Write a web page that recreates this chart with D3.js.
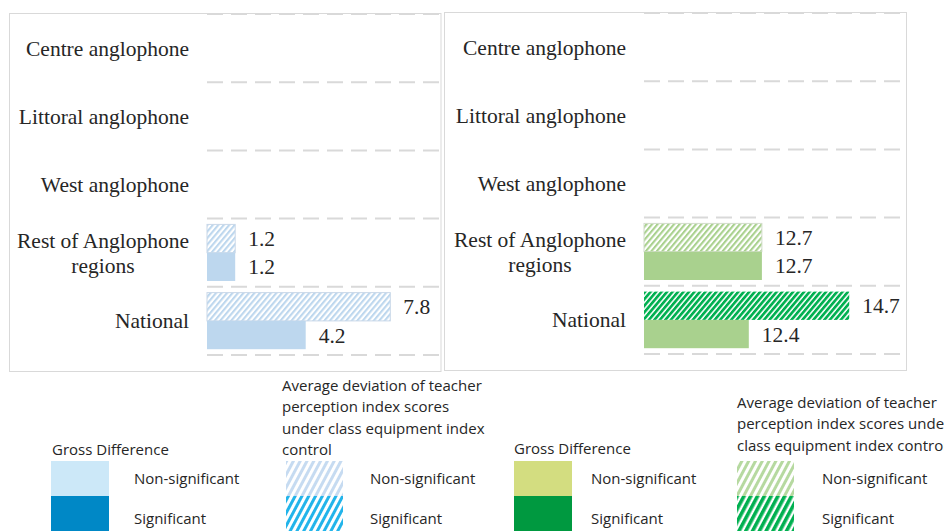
<!DOCTYPE html>
<html>
<head>
<meta charset="utf-8">
<script src="https://cdn.jsdelivr.net/npm/d3@7"></script>
<style>
  body { margin: 0; background: #ffffff; }
  svg { display: block; }
</style>
</head>
<body>
<script>
// ---- data ----
const categories = ["Centre anglophone", "Littoral anglophone", "West anglophone", "Rest of Anglophone regions", "National"];
const categoryLines = [["Centre anglophone"], ["Littoral anglophone"], ["West anglophone"], ["Rest of Anglophone", "regions"], ["National"]];
const seriesKeys = ["adjusted", "gross"];

// left panel (blue)
const leftAdjusted = [null, null, null, 1.2, 7.8];
const leftGross = [null, null, null, 1.2, 4.2];
const leftAdjustedSig = [false, false, false, false, false];
const leftGrossSig = [false, false, false, false, false];
const leftDomain = [0, 10];

// right panel (green)
const rightAdjusted = [null, null, null, 12.7, 14.7];
const rightGross = [null, null, null, 12.7, 12.4];
const rightAdjustedSig = [false, false, false, false, true];
const rightGrossSig = [false, false, false, false, false];
const rightDomain = [10, 16];

// legend text
const legendGrossTitle = ["Gross Difference"];
const legendAdjTitleLeft = ["Average deviation of teacher", "perception index scores", "under class equipment index", "control"];
const legendAdjTitleRight = ["Average deviation of teacher", "perception index scores under", "class equipment index control"];
const legendItems = ["Non-significant", "Significant"];

// ---- drawing ----
const W = 944, H = 532;
const svg = d3.select("body").append("svg").attr("width", W).attr("height", H);
const defs = svg.append("defs");

function hatch(id, color, bg, stripe, period, angle) {
  const p = defs.append("pattern")
    .attr("id", id)
    .attr("patternUnits", "userSpaceOnUse")
    .attr("width", period).attr("height", period)
    .attr("patternTransform", `rotate(${angle})`);
  p.append("rect").attr("width", period).attr("height", period).attr("fill", bg);
  p.append("rect").attr("width", stripe).attr("height", period).attr("fill", color);
}

// bar hatches
hatch("hBlueNS", "#bdd7ee", "#ffffff", 2.1, 4.2, 40);
hatch("hBlueS", "#1fb2e8", "#ffffff", 2.4, 4.2, 40);
hatch("hGreenNS", "#a9d18e", "#ffffff", 2.1, 4.2, 40);
hatch("hGreenS", "#00b050", "#ffffff", 2.7, 4.2, 40);
// legend hatches (steeper, wider)
hatch("lBlueNS", "#c6dbf1", "#ffffff", 3, 6, 28);
hatch("lBlueS", "#22b4ea", "#ffffff", 3, 6, 28);
hatch("lGreenNS", "#b6d9a0", "#ffffff", 3, 6, 28);
hatch("lGreenS", "#00b050", "#ffffff", 3.6, 6, 28);

const textColor = "#262626";
const gridColor = "#d9d9d9";
const serif = "'Liberation Serif', 'Times New Roman', serif";
const sans = "'Open Sans', 'Noto Sans', sans-serif";

const panels = [
  {
    frame: [9.5, 13.5, 431.5, 358], x0: 207, x1: 442, y0: 14, y1: 355, labelX: 189,
    domain: leftDomain, adjusted: leftAdjusted, gross: leftGross,
    adjSig: leftAdjustedSig, grossSig: leftGrossSig,
    solid: "#bdd7ee", solidSig: "#0088c6",
    hatchNS: "url(#hBlueNS)", hatchS: "url(#hBlueS)", hatchStroke: "#c9d8e8"
  },
  {
    frame: [444.5, 12.5, 462, 358], x0: 644, x1: 906, y0: 13, y1: 354, labelX: 626,
    domain: rightDomain, adjusted: rightAdjusted, gross: rightGross,
    adjSig: rightAdjustedSig, grossSig: rightGrossSig,
    solid: "#a9d18e", solidSig: "#009940",
    hatchNS: "url(#hGreenNS)", hatchS: "url(#hGreenS)", hatchStroke: "#d2dccb"
  }
];

panels.forEach(p => {
  const g = svg.append("g");
  g.append("rect")
    .attr("x", p.frame[0]).attr("y", p.frame[1])
    .attr("width", p.frame[2]).attr("height", p.frame[3])
    .attr("fill", "#ffffff").attr("stroke", gridColor).attr("stroke-width", 1);

  const x = d3.scaleLinear().domain(p.domain).range([p.x0, p.x1]);
  const y = d3.scaleBand().domain(categories).range([p.y0, p.y1]).padding(0);
  const ys = d3.scaleBand().domain(seriesKeys).range([0, y.bandwidth()]).paddingInner(0).paddingOuter(0.205);

  // dashed category separators
  const bounds = categories.map(c => y(c)).concat([p.y1]);
  g.selectAll("line.grid").data(bounds).join("line")
    .attr("class", "grid")
    .attr("x1", p.x0).attr("x2", p.x1 - 2)
    .attr("y1", d => d).attr("y2", d => d)
    .attr("stroke", gridColor).attr("stroke-width", 2)
    .attr("stroke-dasharray", "16 8");

  // bars
  const rows = [];
  categories.forEach((c, i) => {
    if (p.adjusted[i] != null) rows.push({ cat: c, key: "adjusted", v: p.adjusted[i], sig: p.adjSig[i] });
    if (p.gross[i] != null) rows.push({ cat: c, key: "gross", v: p.gross[i], sig: p.grossSig[i] });
  });

  g.selectAll("rect.bar").data(rows).join("rect")
    .attr("class", "bar")
    .attr("x", x(p.domain[0]))
    .attr("y", d => y(d.cat) + ys(d.key))
    .attr("width", d => x(d.v) - x(p.domain[0]))
    .attr("height", ys.bandwidth())
    .attr("fill", d => d.key === "adjusted" ? (d.sig ? p.hatchS : p.hatchNS) : (d.sig ? p.solidSig : p.solid))
    .attr("stroke", d => d.key === "adjusted" && !d.sig ? p.hatchStroke : "none")
    .attr("stroke-width", 1);

  // value labels
  g.selectAll("text.val").data(rows).join("text")
    .attr("class", "val")
    .attr("x", d => x(d.v) + 13)
    .attr("y", d => y(d.cat) + ys(d.key) + ys.bandwidth() / 2)
    .attr("dy", "0.35em")
    .attr("font-family", serif).attr("font-size", 21.5)
    .attr("fill", textColor)
    .text(d => d.v.toFixed(1));

  // category labels (multi-line blocks are centred, block right-aligned)
  categories.forEach((c, i) => {
    const lines = categoryLines[i];
    const t = g.append("text")
      .attr("font-family", serif).attr("font-size", 21.5)
      .attr("fill", textColor);
    const lh = 25;
    const cy = y(c) + y.bandwidth() / 2;
    lines.forEach((ln, j) => {
      t.append("tspan")
        .attr("y", cy + (j - (lines.length - 1) / 2) * lh)
        .attr("dy", "0.35em")
        .text(ln);
    });
    const widths = [];
    t.selectAll("tspan").each(function () { widths.push(this.getComputedTextLength()); });
    const maxW = d3.max(widths);
    t.attr("text-anchor", "middle");
    t.selectAll("tspan").attr("x", p.labelX - maxW / 2);
  });
});

// ---- legends ----
const legends = [
  { gx: 52, sx: 51, itemX: 134, ax: 282, asx: 286, aItemX: 370,
    title: legendGrossTitle, adjTitle: legendAdjTitleLeft, titleBase: 455, adjBase: 391,
    solid: ["#cce8f8", "#0088c6"], hatch: ["url(#lBlueNS)", "url(#lBlueS)"] },
  { gx: 514, sx: 514, itemX: 591, ax: 737, asx: 737, aItemX: 822,
    title: legendGrossTitle, adjTitle: legendAdjTitleRight, titleBase: 454, adjBase: 408,
    solid: ["#d3dd80", "#009940"], hatch: ["url(#lGreenNS)", "url(#lGreenS)"] }
];

const swTop = 461, swH = 35;
legends.forEach(L => {
  const g = svg.append("g").attr("font-family", sans).attr("font-size", 15).attr("fill", textColor);

  g.append("text").attr("x", L.gx).attr("y", L.titleBase).text(L.title[0]);
  L.adjTitle.forEach((ln, j) => {
    g.append("text").attr("x", L.ax).attr("y", L.adjBase + j * 21.4).text(ln);
  });

  legendItems.forEach((lab, k) => {
    g.append("rect")
      .attr("x", L.sx).attr("y", swTop + k * swH)
      .attr("width", 58).attr("height", swH)
      .attr("fill", L.solid[k]);
    g.append("rect")
      .attr("x", L.asx).attr("y", swTop + k * swH)
      .attr("width", 57).attr("height", swH)
      .attr("fill", L.hatch[k]);
    g.append("text").attr("x", L.itemX).attr("y", 484 + k * 39.5).text(lab);
    g.append("text").attr("x", L.aItemX).attr("y", 484 + k * 39.5).text(lab);
  });
});
</script>
</body>
</html>
